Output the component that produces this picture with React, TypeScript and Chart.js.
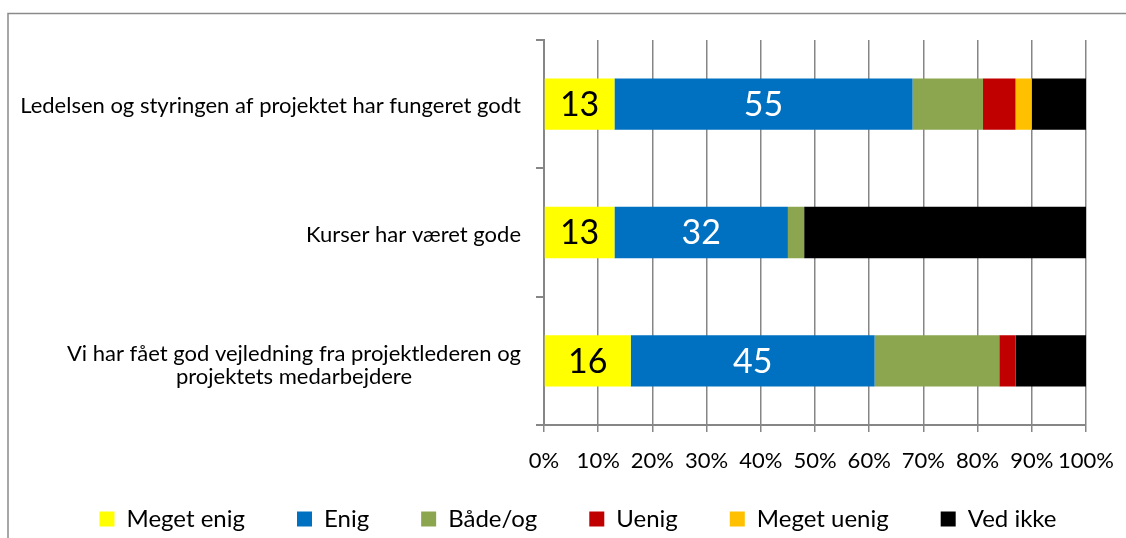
import React, { useEffect, useRef } from "react";
import { Chart, registerables } from "chart.js";

Chart.register(...registerables);

// ---- data ----
const categories: string[][] = [
  ["Ledelsen og styringen af projektet har fungeret godt"],
  ["Kurser har været gode"],
  ["Vi har fået god vejledning fra projektlederen og", "projektets medarbejdere"],
];
const seriesNames = ["Meget enig", "Enig", "Både/og", "Uenig", "Meget uenig", "Ved ikke"];
const megetEnig = [13, 13, 16];
const enig = [55, 32, 45];
const baadeOg = [13, 3, 23];
const uenig = [6, 0, 3];
const megetUenig = [3, 0, 0];
const vedIkke = [10, 52, 13];
const xTickValues = [0, 10, 20, 30, 40, 50, 60, 70, 80, 90, 100];
const xTickLabels = ["0%", "10%", "20%", "30%", "40%", "50%", "60%", "70%", "80%", "90%", "100%"];
const labelledSeries = [0, 1];

const seriesColors = ["#FFFF00", "#0070C0", "#8BA64F", "#C00000", "#FFC000", "#000000"];
const labelColors = ["#000000", "#FFFFFF"];
const FONT = "Lato";
const GRID = "#868686";

const framePlugin = {
  id: "frame",
  beforeDraw(chart: any) {
    const ctx = chart.ctx;
    ctx.save();
    ctx.fillStyle = "#ffffff";
    ctx.fillRect(0, 0, chart.width, chart.height);
    ctx.strokeStyle = "#8a8a8a";
    ctx.lineWidth = 1.5;
    ctx.strokeRect(8, 13.5, 3000, 3000);
    ctx.restore();
  },
};

const valueLabelPlugin = {
  id: "valueLabels",
  afterDatasetsDraw(chart: any) {
    const ctx = chart.ctx;
    ctx.save();
    ctx.font = `34px ${FONT}`;
    ctx.textAlign = "center";
    ctx.textBaseline = "middle";
    labelledSeries.forEach((d, k) => {
      const meta = chart.getDatasetMeta(d);
      const values = chart.data.datasets[d].data as number[];
      meta.data.forEach((bar: any, i: number) => {
        if (!values[i]) return;
        ctx.fillStyle = labelColors[k];
        ctx.fillText(String(values[i]), (bar.x + bar.base) / 2, bar.y + 1);
      });
    });
    ctx.restore();
  },
};

// axis texts drawn unclipped so the layout boxes can stay tight
const axisTextPlugin = {
  id: "axisTexts",
  afterDraw(chart: any) {
    const ctx = chart.ctx;
    const yScale = chart.scales.y;
    const xScale = chart.scales.x;
    ctx.save();
    ctx.fillStyle = "#000000";
    ctx.textBaseline = "middle";
    ctx.textAlign = "center";
    // category labels: block right-aligned, lines centred within block
    ctx.font = `22px ${FONT}`;
    const rightX = yScale.right - 8 - 15;
    const lineH = 23;
    (chart.data.labels as string[][]).forEach((lines, i) => {
      const y = yScale.getPixelForTick(i) + 2 + (lines.length > 1 ? 3 : 0);
      const blockW = Math.max(...lines.map((l) => ctx.measureText(l).width));
      lines.forEach((line, j) => {
        const cy = y + (j - (lines.length - 1) / 2) * lineH;
        ctx.fillText(line, rightX - blockW / 2, cy);
      });
    });
    // value axis tick labels
    ctx.font = `22px ${FONT}`;
    xTickValues.forEach((v, i) => {
      ctx.fillText(xTickLabels[i], xScale.getPixelForValue(v), xScale.top + 36);
    });
    ctx.restore();
  },
};

export default function App() {
  const ref = useRef<HTMLCanvasElement>(null);

  useEffect(() => {
    if (!ref.current) return;
    const seriesData = [megetEnig, enig, baadeOg, uenig, megetUenig, vedIkke];
    const chart = new Chart(ref.current, {
      type: "bar",
      data: {
        labels: categories as any,
        datasets: seriesNames.map((name, i) => ({
          label: name,
          data: seriesData[i],
          backgroundColor: seriesColors[i],
          borderWidth: 0,
          categoryPercentage: 1,
          barPercentage: 0.4,
        })),
      },
      options: {
        indexAxis: "y",
        responsive: false,
        animation: false,
        events: [],
        layout: { padding: { left: 30, right: 0, top: 40, bottom: -3 } },
        plugins: {
          legend: {
            position: "bottom",
            align: "center",
            labels: {
              font: { family: FONT, size: 24 },
              color: "#000000",
              boxWidth: 15,
              boxHeight: 15,
              padding: 52,
            },
          },
          tooltip: { enabled: false },
          title: { display: false },
        },
        scales: {
          x: {
            stacked: true,
            min: 0,
            max: 100,
            afterFit: (scale: any) => {
              scale.height = 30;
            },
            ticks: {
              display: false,
              stepSize: 10,
            },
            grid: {
              color: GRID,
              lineWidth: 1.5,
              drawTicks: true,
              tickLength: 7,
            },
            border: { display: true, color: GRID, width: 2 },
          },
          y: {
            stacked: true,
            afterFit: (scale: any) => {
              scale.width = 514;
            },
            ticks: { display: false },
            grid: {
              drawOnChartArea: false,
              drawTicks: true,
              tickLength: 8,
              color: GRID,
              lineWidth: 2,
            },
            border: { display: true, color: GRID, width: 2 },
          },
          yPad: {
            type: "category",
            position: "right",
            display: true,
            afterFit: (scale: any) => {
              scale.width = 40;
            },
            ticks: { display: false },
            grid: { display: false },
            border: { display: false },
          },
        },
      } as any,
      plugins: [framePlugin, valueLabelPlugin, axisTextPlugin],
    });
    return () => chart.destroy();
  }, []);

  return (
    <div style={{ position: "absolute", left: 0, top: 0, width: 1126, height: 538 }}>
      <canvas ref={ref} width={1126} height={538} style={{ display: "block" }} />
    </div>
  );
}
